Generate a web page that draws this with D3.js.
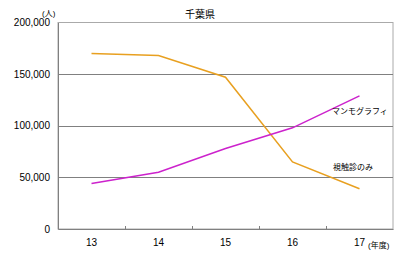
<!DOCTYPE html>
<html>
<head>
<meta charset="utf-8">
<script src="https://cdn.jsdelivr.net/npm/d3@7"></script>
<style>
body { margin: 0; background: #fff; }
text { font-family: Arial, "Liberation Sans", "Noto Sans CJK JP", sans-serif; }
</style>
</head>
<body>
<svg width="400" height="256"></svg>
<script>
var years = ["13", "14", "15", "16", "17"];
var shokushin = [170000, 168000, 147000, 65000, 39000];
var mammo = [44000, 55000, 78000, 98000, 129000];
var yTicks = [0, 50000, 100000, 150000, 200000];

var svg = d3.select('svg');
var plotL = 58, plotR = 393, plotT = 22.5, plotB = 229;

var x = d3.scaleBand().domain(years).range([plotL, plotR]);
var y = d3.scaleLinear().domain([0, 200000]).range([plotB, plotT]);

// frame
svg.append('rect')
    .attr('x', plotL).attr('y', plotT)
    .attr('width', plotR - plotL).attr('height', plotB - plotT)
    .attr('fill', 'none').attr('stroke', '#aaa');

// gridlines
svg.selectAll('.grid')
    .data(yTicks.slice(1, 4))
    .enter().append('line')
    .attr('x1', plotL).attr('x2', plotR)
    .attr('y1', function(d){ return Math.round(y(d)) + 0.5; })
    .attr('y2', function(d){ return Math.round(y(d)) + 0.5; })
    .attr('stroke', '#808080');

// y axis
var yAxis = svg.append('g')
    .attr('transform', 'translate(' + plotL + ',0)')
    .call(d3.axisLeft(y).tickValues(yTicks).tickSize(0).tickPadding(8).tickFormat(d3.format(',')));
yAxis.select('.domain').attr('stroke', '#808080');
yAxis.selectAll('text').style('font-size', '10px').attr('fill', '#000');

// x axis
var xAxis = svg.append('g')
    .attr('transform', 'translate(0,' + plotB + ')')
    .call(d3.axisBottom(x).tickSize(0).tickPadding(10));
xAxis.select('.domain').attr('stroke', '#808080');
xAxis.selectAll('text').style('font-size', '10px').attr('fill', '#000');

// tick marks between categories
svg.selectAll('.xt')
    .data(years.slice(1))
    .enter().append('line')
    .attr('x1', function(d){ return Math.round(x(d)) + 0.5; })
    .attr('x2', function(d){ return Math.round(x(d)) + 0.5; })
    .attr('y1', plotB).attr('y2', plotB - 3)
    .attr('stroke', '#808080');

var line = d3.line()
    .x(function(d, i){ return x(years[i]) + x.bandwidth() / 2; })
    .y(function(d){ return y(d); });

svg.append('path').datum(shokushin)
    .attr('d', line).attr('fill', 'none')
    .attr('stroke', '#e8a020').attr('stroke-width', 1.5);

svg.append('path').datum(mammo)
    .attr('d', line).attr('fill', 'none')
    .attr('stroke', '#cc22cc').attr('stroke-width', 1.5);

// labels
svg.append('text').text('千葉県')
    .attr('x', 200).attr('y', 18)
    .style('text-anchor', 'middle').style('font-size', '10px');

svg.append('text').text('(人)')
    .attr('x', 42).attr('y', 16)
    .style('font-size', '8px');

svg.append('text').text('(年度)')
    .attr('x', 368).attr('y', 248)
    .style('font-size', '8px');

svg.append('text').text('マンモグラフィ')
    .attr('x', 332).attr('y', 114)
    .style('font-size', '8px');

svg.append('text').text('視触診のみ')
    .attr('x', 333).attr('y', 170)
    .style('font-size', '8px');
</script>
</body>
</html>
